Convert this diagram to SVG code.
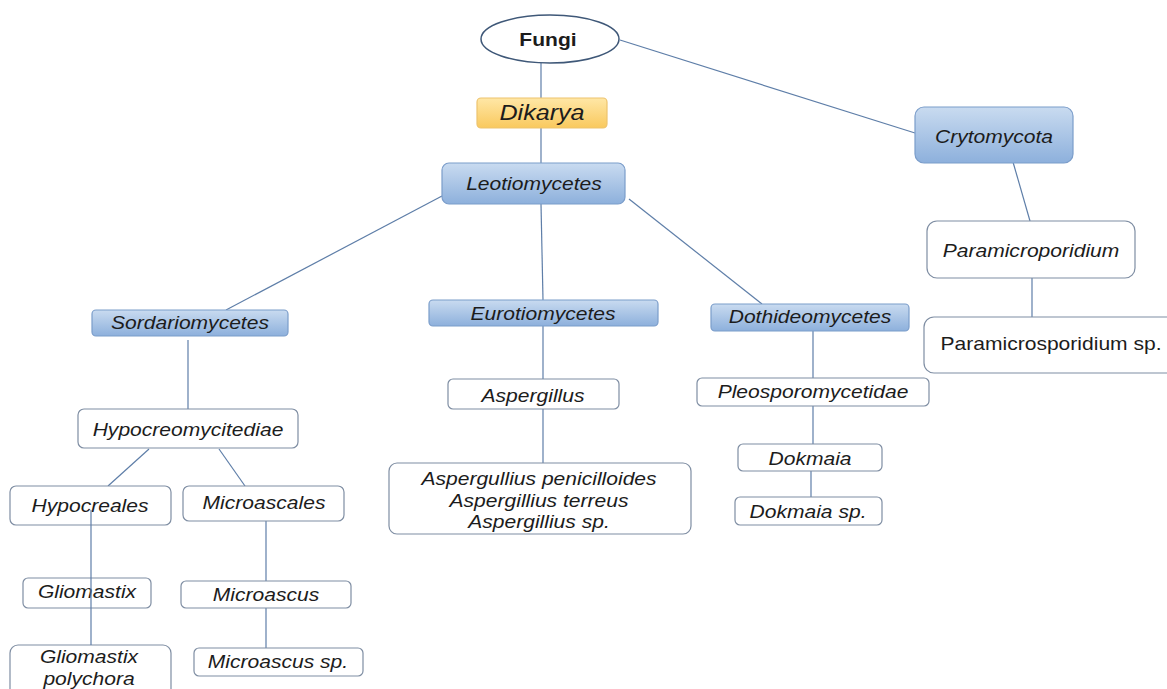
<svg xmlns="http://www.w3.org/2000/svg" width="1167" height="689" viewBox="0 0 1167 689">
<defs>
<linearGradient id="gBlue" x1="0" y1="0" x2="0" y2="1">
<stop offset="0" stop-color="#C9DBF0"/><stop offset="1" stop-color="#8DB0DC"/>
</linearGradient>
<linearGradient id="gOrange" x1="0" y1="0" x2="0" y2="1">
<stop offset="0" stop-color="#FFE7A6"/><stop offset="1" stop-color="#F9C95E"/>
</linearGradient>
<style>
.blue{fill:url(#gBlue);stroke:#7B9DCA;stroke-width:1.2}
.orange{fill:url(#gOrange);stroke:#EDC36E;stroke-width:1.2}
.white{fill:#fff;stroke:#7F8EA3;stroke-width:1.2}
.t{font-family:"Liberation Sans",Arial,sans-serif;font-size:18px;font-style:italic;fill:#1c1c1c;text-anchor:middle}
.n{font-style:normal}
.b{font-style:normal;font-weight:bold}
.c line{stroke:#5E7EA8;stroke-width:1.2}
</style>
</defs>
<rect width="1167" height="689" fill="#fff"/>
<g id="connectors" class="c">
<line x1="541" y1="63" x2="541" y2="163"/>
<line x1="620" y1="40" x2="915" y2="133"/>
<line x1="1013" y1="162" x2="1030" y2="221"/>
<line x1="1032" y1="278" x2="1032" y2="317"/>
<line x1="442" y1="196" x2="226" y2="310"/>
<line x1="541" y1="204" x2="543" y2="300"/>
<line x1="629" y1="199" x2="762" y2="304"/>
<line x1="188" y1="340" x2="188" y2="409"/>
<line x1="543" y1="326" x2="543" y2="379"/>
<line x1="543" y1="409" x2="543" y2="463"/>
<line x1="813" y1="331" x2="813" y2="378"/>
<line x1="813" y1="406" x2="813" y2="444"/>
<line x1="811" y1="471" x2="811" y2="497"/>
<line x1="149" y1="449" x2="108" y2="486"/>
<line x1="219" y1="449" x2="245" y2="486"/>
<line x1="266" y1="521" x2="266" y2="581"/>
<line x1="266" y1="608" x2="266" y2="648"/>
</g>
<g id="fungi"><ellipse cx="550" cy="39" rx="69" ry="24" fill="#fff" stroke="#3F5878" stroke-width="1.5"/><text class="t b" transform="translate(548,46) scale(1.17,1)">Fungi</text></g>
<g id="dikarya"><rect class="orange" x="477" y="98" width="130" height="30" rx="4"/><text class="t" style="font-size:21.5px" transform="translate(542,120) scale(1.17,1)">Dikarya</text></g>
<g id="leotiomycetes"><rect class="blue" x="442" y="163" width="183" height="41" rx="7"/><text class="t" transform="translate(534,190) scale(1.17,1)">Leotiomycetes</text></g>
<g id="crytomycota"><rect class="blue" x="915" y="107" width="158" height="56" rx="9"/><text class="t" transform="translate(994,143) scale(1.17,1)">Crytomycota</text></g>
<g id="paramicroporidium"><rect class="white" x="927" y="221" width="208" height="57" rx="10"/><text class="t" transform="translate(1031,257) scale(1.17,1)">Paramicroporidium</text></g>
<g id="paramicrosporidium-sp"><rect class="white" x="924" y="317" width="260" height="56" rx="10"/><text class="t n" transform="translate(1051,350) scale(1.17,1)">Paramicrosporidium sp.</text></g>
<g id="sordariomycetes"><rect class="blue" x="92" y="310" width="196" height="26" rx="4"/><text class="t" transform="translate(190,329) scale(1.17,1)">Sordariomycetes</text></g>
<g id="hypocreomycitediae"><rect class="white" x="78" y="409" width="220" height="39" rx="6"/><text class="t" transform="translate(188,436) scale(1.17,1)">Hypocreomycitediae</text></g>
<g id="eurotiomycetes"><rect class="blue" x="429" y="300" width="229" height="26" rx="4"/><text class="t" transform="translate(543,320) scale(1.17,1)">Eurotiomycetes</text></g>
<g id="aspergillus"><rect class="white" x="448" y="379" width="171" height="30" rx="5"/><text class="t" transform="translate(533,402) scale(1.17,1)">Aspergillus</text></g>
<g id="aspergillus-species"><rect class="white" x="389" y="463" width="302" height="71" rx="8"/>
<text class="t" transform="translate(539,485) scale(1.17,1)">Aspergullius penicilloides</text>
<text class="t" transform="translate(539,507) scale(1.17,1)">Aspergillius terreus</text>
<text class="t" transform="translate(539,528) scale(1.17,1)">Aspergillius sp.</text></g>
<g id="dothideomycetes"><rect class="blue" x="711" y="304" width="198" height="27" rx="4"/><text class="t" transform="translate(810,323) scale(1.17,1)">Dothideomycetes</text></g>
<g id="pleosporomycetidae"><rect class="white" x="697" y="378" width="232" height="28" rx="5"/><text class="t" transform="translate(813,398) scale(1.17,1)">Pleosporomycetidae</text></g>
<g id="dokmaia"><rect class="white" x="738" y="444" width="144" height="27" rx="5"/><text class="t" transform="translate(810,465) scale(1.17,1)">Dokmaia</text></g>
<g id="dokmaia-sp"><rect class="white" x="735" y="497" width="147" height="28" rx="5"/><text class="t" transform="translate(808,518) scale(1.17,1)">Dokmaia sp.</text></g>
<g id="hypocreales"><rect class="white" x="10" y="486" width="161" height="39" rx="6"/><text class="t" transform="translate(90,512) scale(1.17,1)">Hypocreales</text></g>
<g id="microascales"><rect class="white" x="183" y="486" width="161" height="35" rx="6"/><text class="t" transform="translate(264,509) scale(1.17,1)">Microascales</text></g>
<g id="gliomastix"><rect class="white" x="23" y="578" width="128" height="30" rx="5"/><text class="t" transform="translate(87,598) scale(1.17,1)">Gliomastix</text></g>
<g id="microascus"><rect class="white" x="181" y="581" width="170" height="27" rx="5"/><text class="t" transform="translate(266,601) scale(1.17,1)">Microascus</text></g>
<g id="microascus-sp"><rect class="white" x="194" y="648" width="169" height="28" rx="5"/><text class="t" transform="translate(278,668) scale(1.17,1)">Microascus sp.</text></g>
<g id="gliomastix-polychora"><rect class="white" x="10" y="645" width="161" height="60" rx="8"/>
<text class="t" transform="translate(89,663) scale(1.17,1)">Gliomastix</text>
<text class="t" transform="translate(89,685) scale(1.17,1)">polychora</text></g>
<g id="connectors-over" class="c">
<line x1="91" y1="510" x2="91" y2="645"/>
</g>
</svg>
